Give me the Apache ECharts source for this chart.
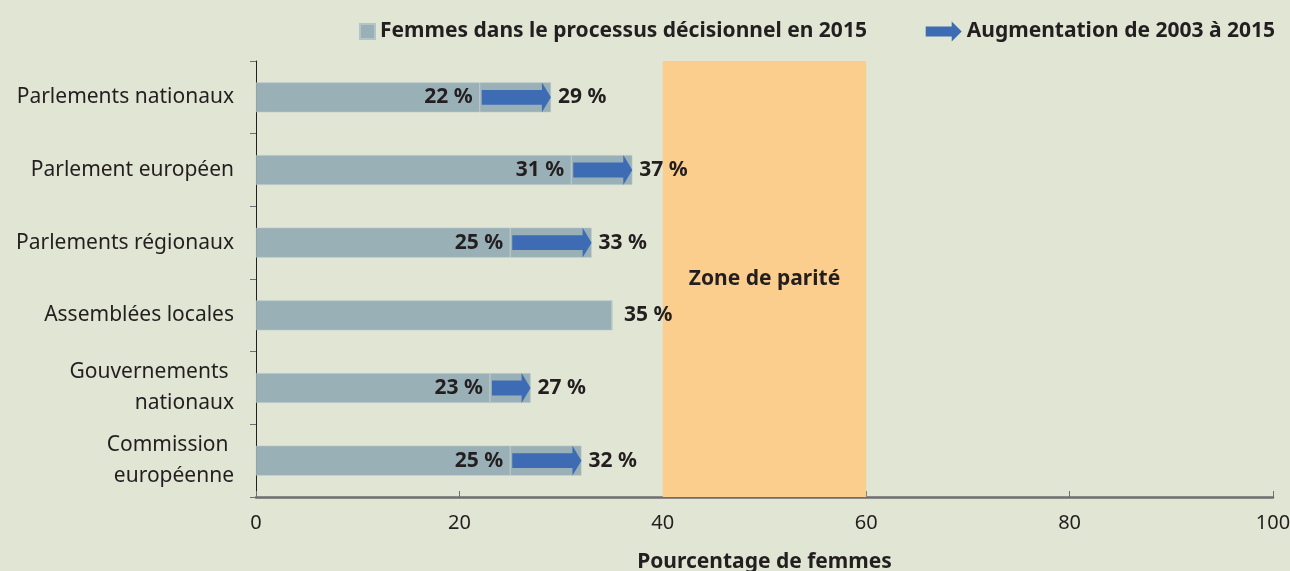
<!DOCTYPE html>
<html>
<head>
<meta charset="utf-8">
<script src="https://cdn.jsdelivr.net/npm/echarts@6/dist/echarts.min.js"></script>
<style>
  html, body { margin: 0; padding: 0; background: #E1E5D3; }
  #chart { width: 1290px; height: 571px; }
</style>
</head>
<body>
<div id="chart"></div>
<script>
// données
var categories = ['Parlements nationaux', 'Parlement européen', 'Parlements régionaux',
  'Assemblées locales', 'Gouvernements \nnationaux', 'Commission \neuropéenne'];
var valeurs2003 = [22, 31, 25, 35, 23, 25];
var valeurs2015 = [29, 37, 33, 35, 27, 32];
var xTicks = [0, 20, 40, 60, 80, 100];
var zoneParite = [40, 60];

var txt = '#231F20';
var gris = '#9AB0B7';
var bleu = '#3D6CB5';
var police = 'Noto Sans';

var nomBarre = 'Femmes dans le processus décisionnel en 2015';
var nomFleche = 'Augmentation de 2003 à 2015';

// barre de base (jusqu'à 2003) + augmentation empilée
var baseData = valeurs2003.map(function (v, i) {
  var sansHausse = valeurs2015[i] === v;
  return {
    value: v,
    label: {
      show: true,
      position: sansHausse ? 'right' : 'insideRight',
      distance: sansHausse ? 12 : 7
    }
  };
});
var hausseData = valeurs2015.map(function (v, i) {
  var d = v - valeurs2003[i];
  return {value: d, label: {show: d > 0}};
});
var flecheData = valeurs2003.map(function (v, i) {
  return [v, valeurs2015[i], i];
});

var myChart = echarts.init(document.getElementById('chart'));

var option = {
  backgroundColor: '#E1E5D3',
  animation: false,
  textStyle: {fontFamily: police},
  legend: [
    {
      data: [{name: nomBarre, icon: 'rect'}],
      left: 354,
      top: 16,
      itemWidth: 15,
      itemHeight: 15,
      itemGap: 6,
      textStyle: {color: txt, fontSize: 21, fontWeight: 'bold', fontFamily: police}
    },
    {
      data: [{name: nomFleche, icon: 'path://M0,5 L26,5 L26,0 L36,10 L26,20 L26,15 L0,15 Z'}],
      right: 10,
      top: 16,
      itemWidth: 36,
      itemHeight: 20,
      itemGap: 8,
      textStyle: {color: txt, fontSize: 21, fontWeight: 'bold', fontFamily: police}
    }
  ],
  grid: {
    left: 256,
    right: 17,
    top: 61,
    bottom: 74,
    outerBoundsMode: 'none'
  },
  xAxis: {
    type: 'value',
    min: 0,
    max: 100,
    interval: 20,
    name: 'Pourcentage de femmes',
    nameLocation: 'middle',
    nameGap: 55,
    nameTextStyle: {color: txt, fontSize: 21, fontWeight: 'bold', fontFamily: police},
    axisLine: {show: true, lineStyle: {color: '#6D6E71', width: 2.5}},
    axisTick: {show: true, inside: true, length: 6, lineStyle: {color: '#6D6E71', width: 1}},
    axisLabel: {
      color: txt, fontSize: 20, margin: 16, fontFamily: police,
      formatter: function (v) { return xTicks.indexOf(v) >= 0 ? String(v) : ''; }
    },
    splitLine: {show: false}
  },
  yAxis: {
    type: 'category',
    inverse: true,
    data: categories,
    axisLine: {show: true, lineStyle: {color: '#231F20', width: 1}},
    axisTick: {show: true, length: 6, lineStyle: {color: '#6D6E71'}},
    axisLabel: {
      color: txt, fontSize: 21, margin: 22, lineHeight: 31, align: 'right', fontFamily: police
    }
  },
  series: [
    {
      name: nomBarre,
      type: 'bar',
      stack: 'total',
      barWidth: '41%',
      data: baseData,
      itemStyle: {color: gris, borderColor: '#B3C4C8', borderWidth: 0.6},
      label: {
        color: txt, fontSize: 21, fontWeight: 'bold', fontFamily: police,
        formatter: '{c} %'
      },
      markArea: {
        silent: true,
        itemStyle: {color: '#FBCE8D'},
        label: {
          show: true,
          position: 'inside',
          color: txt,
          fontSize: 21,
          fontWeight: 'bold',
          fontFamily: police
        },
        data: [[{name: 'Zone de parité', xAxis: zoneParite[0]}, {xAxis: zoneParite[1]}]]
      },
      z: 2
    },
    {
      name: nomBarre,
      type: 'bar',
      stack: 'total',
      barWidth: '41%',
      data: hausseData,
      itemStyle: {color: gris, borderColor: '#B3C4C8', borderWidth: 0.6},
      label: {
        position: 'right',
        distance: 7,
        color: txt, fontSize: 21, fontWeight: 'bold', fontFamily: police,
        formatter: function (p) { return valeurs2015[p.dataIndex] + ' %'; }
      },
      z: 2
    },
    {
      name: nomFleche,
      type: 'custom',
      itemStyle: {color: bleu},
      data: flecheData.filter(function (d) { return d[1] > d[0]; }),
      encode: {x: [0, 1], y: 2},
      z: 3,
      renderItem: function (params, api) {
        var cat = api.value(2);
        var p0 = api.coord([api.value(0), cat]);
        var p1 = api.coord([api.value(1), cat]);
        var hBarre = api.size([0, 1])[1] * 0.41;
        var x0 = p0[0] + 2;
        var x1 = p1[0];
        var tete = 9;
        var y = p0[1];
        var hc = hBarre * 0.25;
        var ht = hBarre * 0.5;
        return {
          type: 'polygon',
          shape: {
            points: [
              [x0, y - hc], [x1 - tete, y - hc], [x1 - tete, y - ht],
              [x1, y], [x1 - tete, y + ht], [x1 - tete, y + hc], [x0, y + hc]
            ]
          },
          style: {fill: bleu}
        };
      }
    }
  ]
};

option && myChart.setOption(option);
</script>
</body>
</html>
